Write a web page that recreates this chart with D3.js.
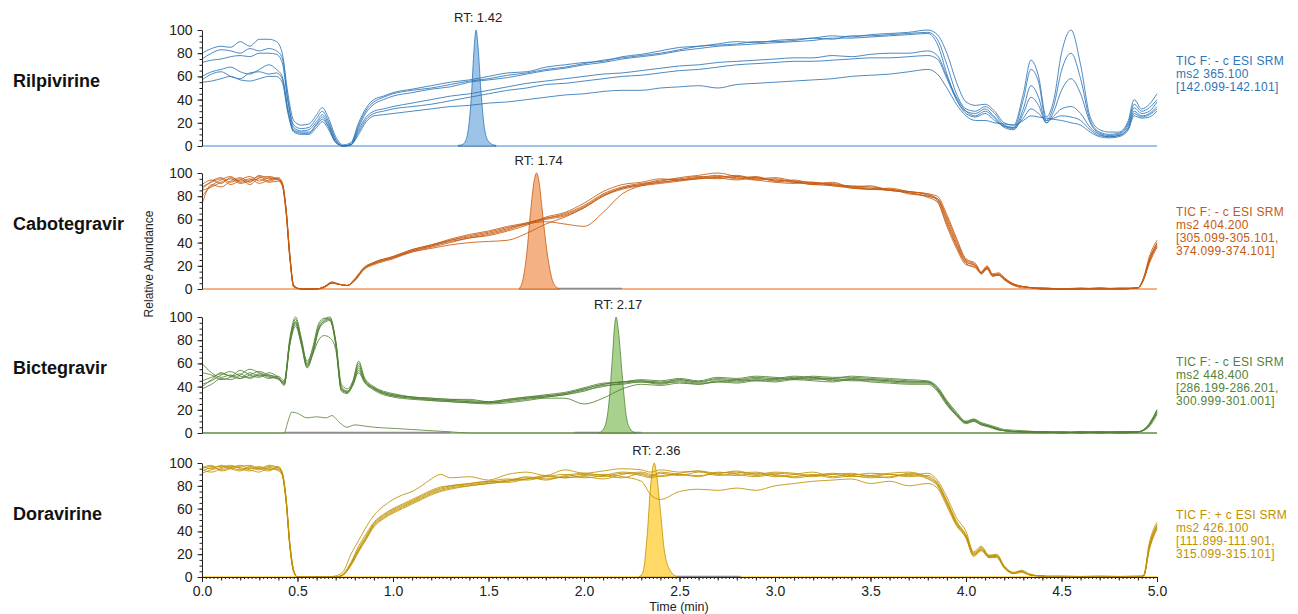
<!DOCTYPE html>
<html>
<head>
<meta charset="utf-8">
<title>SRM chromatograms</title>
<script src="https://cdn.jsdelivr.net/npm/d3@7"></script>
<style>
  body { margin: 0; background: #fff; }
  text { font-family: "Liberation Sans", Arial, sans-serif; }
</style>
</head>
<body>
<div id="chart"></div>
<script>
// ---- Rilpivirine ----
var rilTimes = [0, 0.05, 0.1, 0.15, 0.2, 0.25, 0.3, 0.35, 0.39, 0.42,
  0.45, 0.48, 0.52, 0.56, 0.6, 0.63, 0.66, 0.7, 0.74, 0.78,
  0.82, 0.86, 0.9, 0.95, 1.0, 1.1, 1.2, 1.3, 1.4, 1.5,
  1.6, 1.7, 1.8, 1.9, 2.0, 2.1, 2.2, 2.3, 2.4, 2.5,
  2.6, 2.7, 2.8, 2.9, 3.0, 3.1, 3.2, 3.3, 3.4, 3.5,
  3.6, 3.7, 3.8, 3.85, 3.9, 3.95, 4.0, 4.05, 4.1, 4.15,
  4.2, 4.25, 4.3, 4.34, 4.38, 4.42, 4.46, 4.5, 4.55, 4.6,
  4.65, 4.7, 4.75, 4.8, 4.85, 4.88, 4.92, 4.96, 5.0];
var rilRuns = [
  [80, 84, 86, 85, 90, 86, 92, 92, 90, 80,
   45, 22, 18, 19, 27, 33, 25, 8, 1, 3,
   20, 33, 40, 43, 46, 49, 52, 55, 57, 60,
   63, 64, 68, 70, 72, 73, 77, 79, 82, 85,
   86, 88, 90, 89, 91, 92, 93, 95, 94, 96,
   97, 98, 100, 96, 80, 55, 38, 35, 36, 30,
   20, 18, 45, 74, 60, 25, 40, 80, 100, 70,
   25, 14, 12, 12, 22, 40, 32, 36, 45],
  [75, 80, 83, 82, 80, 84, 82, 84, 82, 76,
   40, 18, 15, 16, 24, 30, 22, 6, 0, 2,
   18, 31, 38, 42, 45, 48, 50, 53, 56, 58,
   61, 63, 66, 68, 71, 74, 76, 78, 80, 83,
   86, 87, 88, 90, 90, 91, 93, 92, 95, 95,
   96, 97, 98, 92, 70, 45, 32, 30, 34, 28,
   18, 16, 40, 66, 55, 22, 35, 65, 80, 58,
   22, 12, 10, 11, 20, 36, 30, 33, 40],
  [72, 74, 75, 77, 78, 77, 80, 80, 79, 72,
   38, 16, 13, 14, 21, 27, 20, 5, 0, 1,
   16, 29, 36, 40, 43, 46, 49, 51, 55, 57,
   59, 62, 65, 67, 70, 72, 75, 77, 79, 82,
   84, 86, 87, 88, 89, 90, 91, 93, 93, 94,
   95, 96, 97, 88, 62, 40, 30, 28, 32, 25,
   17, 15, 32, 52, 42, 20, 30, 48, 58, 45,
   20, 11, 9, 10, 18, 33, 28, 30, 38],
  [60, 64, 66, 68, 64, 62, 66, 70, 66, 60,
   32, 14, 12, 12, 19, 25, 18, 4, 0, 1,
   14, 25, 30, 32, 34, 37, 40, 43, 45, 48,
   51, 54, 56, 58, 60, 62, 63, 65, 67, 69,
   70, 72, 73, 74, 75, 76, 76, 78, 77, 79,
   80, 80, 82, 78, 60, 42, 30, 26, 30, 24,
   16, 14, 28, 42, 35, 20, 26, 32, 34, 28,
   16, 10, 8, 9, 16, 30, 26, 28, 34],
  [57, 62, 64, 60, 58, 63, 64, 62, 63, 58,
   30, 13, 11, 11, 18, 23, 17, 3, 0, 1,
   12, 23, 28, 30, 32, 34, 36, 39, 42, 45,
   48, 50, 53, 54, 56, 58, 60, 61, 63, 65,
   66, 68, 70, 71, 72, 73, 73, 74, 75, 76,
   76, 77, 78, 75, 58, 40, 28, 25, 28, 22,
   17, 16, 24, 32, 28, 22, 24, 26, 25, 22,
   14, 9, 8, 9, 15, 28, 25, 27, 32],
  [55, 56, 58, 60, 57, 56, 58, 60, 60, 55,
   28, 12, 10, 10, 16, 21, 15, 3, 0, 1,
   10, 21, 26, 27, 28, 30, 32, 34, 35, 37,
   38, 40, 42, 44, 45, 47, 48, 48, 50, 51,
   52, 50, 53, 54, 55, 56, 57, 58, 60, 61,
   62, 64, 66, 62, 50, 36, 26, 22, 22, 20,
   19, 18, 22, 26, 25, 24, 23, 22, 20, 18,
   12, 8, 7, 8, 14, 26, 24, 25, 30]
];
var rilPeakTimes = [1.34, 1.37, 1.39, 1.41, 1.425, 1.435, 1.445, 1.46, 1.48, 1.5, 1.54];
var rilPeakValues = [0, 2, 10, 42, 85, 100, 86, 48, 14, 4, 0];
var rilGrey = [[1.34, 1.54]];
var rilLegend = ["TIC F: - c ESI SRM", "ms2 365.100", "[142.099-142.101]"];

// ---- Cabotegravir ----
var cabTimes = [0, 0.05, 0.1, 0.15, 0.2, 0.25, 0.3, 0.35, 0.4, 0.42,
  0.44, 0.46, 0.48, 0.52, 0.6, 0.64, 0.68, 0.72, 0.76, 0.8,
  0.85, 0.9, 1.0, 1.1, 1.2, 1.3, 1.4, 1.5, 1.6, 1.7,
  1.8, 1.9, 2.0, 2.1, 2.2, 2.3, 2.4, 2.5, 2.6, 2.7,
  2.8, 2.9, 3.0, 3.1, 3.2, 3.3, 3.4, 3.5, 3.6, 3.7,
  3.8, 3.85, 3.9, 3.95, 4.0, 4.05, 4.08, 4.11, 4.14, 4.17,
  4.2, 4.24, 4.3, 4.35, 4.4, 4.5, 4.6, 4.7, 4.8, 4.9,
  4.93, 4.96, 5.0];
var cabRuns = [
  [73, 90, 88, 93, 96, 92, 98, 95, 96, 92,
   70, 30, 3, 0, 0, 2, 5, 4, 3, 8,
   18, 22, 27, 33, 37, 42, 46, 49, 53, 56,
   60, 63, 70, 80, 87, 90, 92, 94, 95, 97,
   96, 94, 95, 92, 91, 90, 88, 87, 85, 83,
   80, 78, 62, 42, 25, 21, 14, 19, 12, 13,
   9, 5, 2, 1, 1, 0, 0, 0, 0, 1,
   8, 25, 40],
  [88, 92, 95, 90, 94, 97, 93, 96, 94, 90,
   68, 28, 2, 0, 0, 2, 6, 4, 3, 9,
   19, 23, 28, 34, 38, 43, 47, 50, 54, 57,
   61, 65, 72, 82, 88, 91, 93, 96, 98, 100,
   97, 96, 94, 93, 92, 90, 89, 88, 86, 84,
   82, 80, 64, 44, 26, 22, 15, 20, 13, 14,
   10, 5, 2, 1, 0, 0, 0, 1, 0, 1,
   10, 28, 42],
  [85, 88, 92, 95, 91, 93, 95, 92, 93, 89,
   66, 26, 2, 0, 0, 1, 5, 4, 3, 7,
   17, 21, 26, 32, 36, 40, 44, 46, 50, 55,
   62, 66, 74, 84, 90, 92, 95, 94, 96, 98,
   95, 97, 93, 94, 91, 92, 88, 89, 85, 84,
   81, 78, 60, 40, 24, 20, 13, 18, 11, 12,
   8, 4, 2, 1, 0, 0, 0, 0, 1, 1,
   9, 24, 38],
  [90, 94, 91, 96, 93, 95, 91, 94, 95, 91,
   69, 29, 3, 0, 0, 2, 6, 4, 3, 8,
   18, 22, 27, 32, 35, 38, 40, 41, 42, 48,
   56, 62, 70, 80, 86, 89, 91, 93, 95, 96,
   98, 95, 96, 93, 90, 91, 87, 86, 86, 82,
   80, 77, 58, 38, 23, 20, 14, 19, 12, 13,
   9, 4, 1, 1, 1, 0, 0, 0, 0, 1,
   8, 22, 36],
  [86, 93, 96, 92, 95, 90, 96, 97, 94, 90,
   67, 27, 2, 0, 0, 2, 5, 4, 3, 8,
   18, 22, 27, 33, 37, 41, 44, 47, 51, 56,
   58, 56, 54, 66, 82, 89, 92, 94, 96, 95,
   97, 94, 92, 91, 92, 89, 88, 86, 87, 84,
   82, 76, 56, 37, 22, 18, 14, 18, 12, 12,
   9, 5, 2, 1, 0, 0, 1, 0, 0, 1,
   9, 26, 39],
  [80, 89, 94, 97, 92, 94, 97, 93, 95, 91,
   68, 28, 3, 0, 0, 2, 5, 4, 3, 8,
   18, 23, 28, 34, 38, 42, 45, 48, 52, 57,
   61, 64, 71, 81, 87, 90, 94, 95, 97, 96,
   94, 96, 93, 92, 90, 89, 87, 86, 85, 83,
   79, 75, 54, 35, 21, 19, 13, 17, 11, 12,
   8, 4, 2, 1, 0, 0, 0, 1, 0, 1,
   9, 24, 37]
];
var cabPeakTimes = [1.66, 1.68, 1.7, 1.72, 1.74, 1.752, 1.765, 1.78, 1.8, 1.82, 1.84, 1.87];
var cabPeakValues = [0, 8, 30, 66, 94, 100, 92, 70, 40, 18, 5, 0];
var cabGrey = [[1.66, 2.2]];
var cabLegend = ["TIC F: - c ESI SRM", "ms2 404.200", "[305.099-305.101,", "374.099-374.101]"];

// ---- Bictegravir ----
var bicTimes = [0, 0.05, 0.1, 0.15, 0.2, 0.25, 0.3, 0.35, 0.4, 0.43,
  0.46, 0.49, 0.52, 0.55, 0.58, 0.61, 0.64, 0.67, 0.7, 0.73,
  0.76, 0.79, 0.82, 0.85, 0.9, 0.95, 1.0, 1.1, 1.2, 1.3,
  1.4, 1.5, 1.6, 1.7, 1.8, 1.9, 2.0, 2.1, 2.2, 2.3,
  2.4, 2.5, 2.6, 2.7, 2.8, 2.9, 3.0, 3.1, 3.2, 3.3,
  3.4, 3.5, 3.6, 3.7, 3.8, 3.85, 3.9, 3.95, 4.0, 4.04,
  4.08, 4.12, 4.16, 4.2, 4.3, 4.4, 4.5, 4.6, 4.7, 4.8,
  4.9, 4.95, 5.0];
var bicRuns = [
  [60, 52, 48, 50, 47, 52, 49, 50, 46, 44,
   80, 98, 80, 62, 72, 92, 98, 100, 80, 42,
   38, 45, 62, 48, 40, 36, 34, 31, 30, 29,
   28, 27, 29, 31, 32, 34, 38, 42, 44, 45,
   44, 46, 44, 47, 46, 48, 47, 49, 48, 47,
   49, 48, 47, 46, 45, 40, 28, 18, 10, 12,
   9, 7, 5, 3, 2, 1, 1, 1, 1, 1,
   1, 6, 20],
  [42, 45, 50, 53, 49, 48, 51, 48, 47, 42,
   78, 95, 78, 58, 70, 90, 96, 98, 78, 40,
   36, 43, 58, 46, 38, 34, 32, 30, 29, 28,
   27, 26, 28, 30, 31, 33, 37, 40, 43, 44,
   42, 45, 43, 44, 46, 45, 47, 46, 48, 45,
   47, 46, 45, 44, 44, 38, 26, 16, 9, 11,
   8, 6, 4, 2, 1, 1, 0, 1, 0, 1,
   1, 5, 18],
  [40, 46, 52, 49, 54, 50, 48, 52, 48, 43,
   82, 100, 82, 60, 74, 94, 99, 97, 76, 36,
   34, 42, 56, 45, 39, 35, 33, 31, 30, 29,
   29, 27, 29, 31, 33, 35, 39, 43, 44, 46,
   45, 47, 45, 48, 47, 49, 48, 47, 49, 48,
   48, 47, 46, 45, 44, 39, 27, 17, 10, 12,
   8, 6, 4, 2, 1, 1, 1, 0, 1, 1,
   1, 6, 20],
  [38, 42, 47, 46, 50, 55, 52, 49, 47, 41,
   76, 92, 76, 56, 68, 88, 95, 97, 79, 38,
   35, 41, 54, 44, 37, 33, 31, 29, 28, 27,
   26, 26, 27, 29, 31, 33, 36, 41, 42, 44,
   43, 44, 42, 45, 44, 46, 45, 47, 46, 46,
   45, 45, 44, 43, 43, 37, 25, 15, 9, 10,
   7, 6, 3, 2, 1, 0, 1, 0, 1, 0,
   1, 5, 17],
  [52, 50, 46, 48, 51, 47, 50, 47, 49, 45,
   79, 96, 79, 59, 68, 80, 84, 82, 72, 38,
   36, 42, 52, 44, 38, 34, 32, 30, 28, 27,
   26, 25, 26, 28, 30, 30, 25, 30, 38, 42,
   41, 43, 42, 44, 43, 45, 44, 46, 45, 44,
   46, 44, 43, 42, 42, 36, 24, 15, 8, 10,
   7, 5, 3, 2, 1, 1, 0, 1, 0, 1,
   1, 4, 16],
  [45, 48, 51, 49, 47, 50, 53, 50, 48, 42,
   77, 94, 77, 57, 69, 89, 97, 99, 77, 37,
   35, 44, 60, 47, 39, 35, 33, 31, 29, 28,
   27, 26, 28, 30, 32, 34, 38, 42, 44, 45,
   43, 46, 44, 46, 45, 47, 46, 48, 47, 47,
   46, 46, 45, 44, 44, 38, 26, 16, 9, 11,
   8, 6, 4, 2, 1, 1, 0, 1, 1, 0,
   1, 5, 19]
];
var bicBlankTimes = [0, 0.43, 0.45, 0.47, 0.5, 0.55, 0.6, 0.65, 0.68, 0.72, 0.76, 0.8, 0.85, 0.9, 1.0, 1.1, 1.2, 1.3, 1.4, 5.0];
var bicBlankValues = [0, 0, 10, 18, 17, 13, 14, 13, 15, 9, 5, 7, 6, 5, 4, 3, 2, 1, 0, 0];
var bicPeakTimes = [2.08, 2.11, 2.13, 2.15, 2.16, 2.168, 2.18, 2.2, 2.22, 2.24, 2.27];
var bicPeakValues = [0, 6, 25, 68, 92, 100, 88, 50, 16, 4, 0];
var bicGrey = [[0.43, 1.3], [1.95, 2.3]];
var bicLegend = ["TIC F: - c ESI SRM", "ms2 448.400", "[286.199-286.201,", "300.999-301.001]"];

// ---- Doravirine ----
var dorTimes = [0, 0.05, 0.1, 0.15, 0.2, 0.25, 0.3, 0.35, 0.4, 0.42,
  0.44, 0.46, 0.48, 0.5, 0.6, 0.66, 0.7, 0.74, 0.78, 0.82,
  0.86, 0.9, 0.95, 1.0, 1.05, 1.1, 1.15, 1.2, 1.25, 1.3,
  1.4, 1.5, 1.6, 1.7, 1.8, 1.9, 2.0, 2.1, 2.2, 2.3,
  2.35, 2.4, 2.5, 2.6, 2.7, 2.8, 2.9, 3.0, 3.1, 3.2,
  3.3, 3.4, 3.5, 3.6, 3.7, 3.8, 3.85, 3.9, 3.95, 4.0,
  4.04, 4.08, 4.12, 4.16, 4.2, 4.25, 4.29, 4.33, 4.38, 4.5,
  4.7, 4.9, 4.93, 4.96, 5.0];
var dorRuns = [
  [97, 95, 98, 96, 94, 97, 95, 98, 96, 92,
   70, 30, 6, 0, 0, 0, 1, 5, 20, 32,
   44, 54, 62, 68, 72, 75, 80, 86, 90, 87,
   88, 85, 90, 92, 89, 94, 91, 93, 95, 94,
   92, 94, 92, 93, 91, 93, 90, 92, 91, 89,
   90, 91, 88, 90, 89, 91, 85, 70, 52, 40,
   22, 27, 19, 20, 10, 4, 6, 3, 1, 0,
   0, 0, 2, 30, 48],
  [95, 97, 94, 96, 98, 95, 97, 94, 96, 91,
   68, 28, 5, 0, 0, 0, 0, 3, 13, 27,
   38, 48, 55, 60, 64, 68, 72, 76, 79, 80,
   82, 84, 86, 85, 88, 90, 87, 89, 92, 90,
   88, 91, 89, 92, 90, 89, 91, 88, 90, 92,
   88, 90, 89, 87, 91, 88, 82, 66, 48, 36,
   20, 25, 18, 19, 9, 3, 5, 2, 1, 0,
   1, 0, 1, 28, 46],
  [93, 96, 97, 95, 93, 96, 94, 97, 95, 90,
   67, 27, 5, 0, 0, 0, 0, 2, 11, 24,
   35, 46, 53, 58, 62, 66, 70, 74, 77, 79,
   81, 83, 85, 87, 86, 88, 90, 88, 91, 89,
   87, 89, 90, 88, 92, 90, 88, 90, 87, 89,
   91, 89, 87, 88, 90, 86, 80, 64, 46, 35,
   19, 24, 17, 18, 8, 3, 5, 2, 1, 0,
   0, 1, 1, 26, 44],
  [91, 94, 96, 98, 95, 93, 96, 95, 94, 89,
   66, 26, 4, 0, 0, 0, 0, 2, 10, 22,
   33, 44, 51, 56, 60, 64, 68, 72, 75, 77,
   80, 82, 84, 86, 88, 87, 89, 90, 88, 84,
   72, 68, 75, 77, 76, 78, 76, 80, 82, 84,
   85, 86, 82, 84, 80, 82, 78, 62, 45, 34,
   18, 23, 17, 17, 8, 3, 4, 2, 1, 0,
   0, 0, 1, 24, 42],
  [94, 92, 95, 97, 96, 94, 92, 96, 93, 90,
   68, 28, 5, 0, 0, 0, 0, 2, 12, 25,
   36, 47, 54, 59, 63, 67, 71, 75, 78, 80,
   82, 84, 83, 86, 89, 87, 88, 86, 90, 92,
   90, 88, 91, 93, 89, 91, 92, 89, 88, 90,
   87, 89, 91, 90, 88, 89, 83, 67, 49, 37,
   21, 26, 19, 19, 9, 4, 5, 2, 1, 1,
   0, 0, 1, 27, 45],
  [96, 98, 93, 95, 97, 98, 95, 93, 97, 91,
   69, 29, 6, 0, 0, 0, 0, 2, 11, 23,
   34, 45, 52, 57, 61, 65, 69, 73, 76, 78,
   80, 82, 84, 88, 85, 89, 91, 89, 87, 91,
   89, 92, 90, 89, 91, 92, 89, 91, 90, 88,
   90, 88, 89, 91, 92, 87, 81, 65, 47, 36,
   20, 24, 18, 18, 9, 3, 5, 2, 1, 0,
   0, 0, 1, 25, 43]
];
var dorPeakTimes = [2.29, 2.31, 2.33, 2.35, 2.36, 2.368, 2.38, 2.4, 2.42, 2.45, 2.49];
var dorPeakValues = [0, 5, 35, 82, 96, 100, 90, 58, 24, 6, 0];
var dorGrey = [[2.29, 2.82]];
var dorLegend = ["TIC F: + c ESI SRM", "ms2 426.100", "[111.899-111.901,", "315.099-315.101]"];

var yTicks = [0, 20, 40, 60, 80, 100];
var xTicks = [0, 0.5, 1, 1.5, 2, 2.5, 3, 3.5, 4, 4.5, 5];

// ---- layout ----
var width = 1298, height = 614;
var svg = d3.select("#chart").append("svg")
  .attr("width", width)
  .attr("height", height);

var x = d3.scaleLinear().domain([0, 5]).range([202, 1157]);

var panels = [
  { name: "Rilpivirine", top: 30, bottom: 146, line: "#2e75b6", fill: "#9dc3e6",
    times: rilTimes, runs: rilRuns, peakT: rilPeakTimes, peakV: rilPeakValues,
    rt: "RT: 1.42", legend: rilLegend, legendY: 65, grey: rilGrey },
  { name: "Cabotegravir", top: 173, bottom: 289, line: "#c55a11", fill: "#f4b183",
    times: cabTimes, runs: cabRuns, peakT: cabPeakTimes, peakV: cabPeakValues,
    rt: "RT: 1.74", legend: cabLegend, legendY: 216, grey: cabGrey },
  { name: "Bictegravir", top: 317, bottom: 433, line: "#548235", fill: "#a9d18e",
    times: bicTimes, runs: bicRuns, peakT: bicPeakTimes, peakV: bicPeakValues,
    rt: "RT: 2.17", legend: bicLegend, legendY: 366, grey: bicGrey },
  { name: "Doravirine", top: 463, bottom: 577, line: "#bf9000", fill: "#ffd966",
    times: dorTimes, runs: dorRuns, peakT: dorPeakTimes, peakV: dorPeakValues,
    rt: "RT: 2.36", legend: dorLegend, legendY: 519, grey: dorGrey }
];

panels.forEach(function (p, i) {
  var y = d3.scaleLinear().domain([0, 100]).range([p.bottom, p.top]);
  var g = svg.append("g");

  var line = d3.line()
    .x(function (d) { return x(d[0]); })
    .y(function (d) { return y(d[1]); })
    .curve(d3.curveMonotoneX);

  // zero trace of the peak channel
  g.append("line")
    .attr("x1", x(0)).attr("x2", x(5))
    .attr("y1", y(0)).attr("y2", y(0))
    .attr("stroke", i == 2 ? p.line : p.fill)
    .attr("stroke-width", i == 2 ? 1 : 2);

  // integration baselines
  g.selectAll(".grey").data(p.grey).enter().append("line")
    .attr("x1", function (d) { return x(d[0]); })
    .attr("x2", function (d) { return x(d[1]); })
    .attr("y1", y(0) - 0.5).attr("y2", y(0) - 0.5)
    .attr("stroke", "#8c8c8c")
    .attr("stroke-width", 1.5);

  // identified peak
  var area = d3.area()
    .x(function (d) { return x(d[0]); })
    .y0(y(0))
    .y1(function (d) { return y(d[1]); })
    .curve(d3.curveMonotoneX);
  g.append("path")
    .datum(d3.zip(p.peakT, p.peakV))
    .attr("d", area)
    .attr("fill", p.fill)
    .attr("stroke", p.line)
    .attr("stroke-width", 0.8);

  // blank run in the bictegravir channel
  if (i == 2) {
    g.append("path")
      .datum(d3.zip(bicBlankTimes, bicBlankValues))
      .attr("d", line)
      .attr("fill", "none")
      .attr("stroke", p.line)
      .attr("stroke-width", 1)
      .attr("stroke-opacity", 0.8);
  }

  // replicate injections
  p.runs.forEach(function (r) {
    g.append("path")
      .datum(d3.zip(p.times, r))
      .attr("d", line)
      .attr("fill", "none")
      .attr("stroke", p.line)
      .attr("stroke-width", 1)
      .attr("stroke-opacity", 0.85);
  });

  // y axis: minor then major ticks
  g.append("g")
    .attr("transform", "translate(" + x(0) + ",0)")
    .attr("color", "#222")
    .call(d3.axisLeft(y).tickValues(d3.range(0, 101, 5)).tickSize(2.5).tickSizeOuter(0).tickFormat(""))
    .call(function (a) { a.select(".domain").remove(); });
  g.append("g")
    .attr("transform", "translate(" + x(0) + ",0)")
    .attr("color", "#222")
    .call(d3.axisLeft(y).tickValues(yTicks).tickSize(4.5).tickSizeOuter(0).tickPadding(5))
    .attr("font-family", null)
    .attr("font-size", 14);

  // retention time label
  var apex = p.peakT[d3.maxIndex(p.peakV)];
  g.append("text")
    .attr("x", x(apex) + 2)
    .attr("y", p.top - 8)
    .attr("text-anchor", "middle")
    .attr("font-size", 13)
    .attr("fill", "#222")
    .text(p.rt);

  // compound name
  g.append("text")
    .attr("x", 13)
    .attr("y", p.top + 57)
    .attr("font-size", 18)
    .attr("font-weight", "bold")
    .attr("fill", "#111")
    .text(p.name);

  // scan filter legend
  g.append("text")
    .attr("x", 1176)
    .attr("y", p.legendY)
    .attr("font-size", 12)
    .attr("letter-spacing", 0.3)
    .attr("fill", p.line)
    .selectAll("tspan").data(p.legend).enter().append("tspan")
      .attr("x", 1176)
      .attr("dy", function (d, k) { return k == 0 ? 0 : 13; })
      .text(function (d) { return d; });

  // time axis on the bottom panel only
  if (i == panels.length - 1) {
    g.append("g")
      .attr("transform", "translate(0," + y(0) + ")")
      .attr("color", "#222")
      .call(d3.axisBottom(x).tickValues(d3.range(0, 5.001, 0.02)).tickSize(2).tickSizeOuter(0).tickFormat(""));
    g.append("g")
      .attr("transform", "translate(0," + y(0) + ")")
      .attr("color", "#222")
      .call(d3.axisBottom(x).tickValues(d3.range(0, 5.001, 0.1)).tickSize(3.5).tickSizeOuter(0).tickFormat(""))
      .call(function (a) { a.select(".domain").remove(); });
    g.append("g")
      .attr("transform", "translate(0," + y(0) + ")")
      .attr("color", "#222")
      .call(d3.axisBottom(x).tickValues(xTicks).tickSize(5).tickSizeOuter(0).tickPadding(4).tickFormat(d3.format(".1f")))
      .call(function (a) { a.select(".domain").remove(); })
      .attr("font-family", null)
      .attr("font-size", 14);
  }
});

// axis titles
svg.append("text")
  .attr("transform", "translate(153,264) rotate(-90)")
  .attr("text-anchor", "middle")
  .attr("font-size", 12)
  .attr("fill", "#222")
  .text("Relative Abundance");

svg.append("text")
  .attr("x", 679)
  .attr("y", 611)
  .attr("text-anchor", "middle")
  .attr("font-size", 12.5)
  .attr("fill", "#222")
  .text("Time (min)");
</script>
</body>
</html>
